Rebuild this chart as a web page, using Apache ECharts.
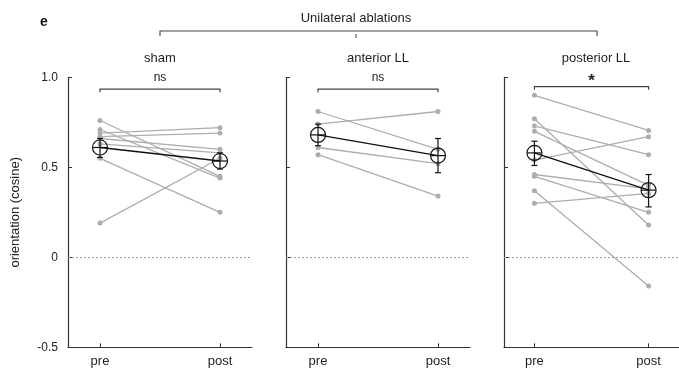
<!DOCTYPE html>
<html>
<head>
<meta charset="utf-8">
<script src="https://cdn.jsdelivr.net/npm/echarts@6/dist/echarts.min.js"></script>
<style>html,body{margin:0;padding:0;background:#fff;}#c{width:679px;height:370px;}</style>
</head>
<body>
<div id="c"></div>
<script>
// ---- data ----
const categories = ['pre', 'post'];
const panelTitles = ['sham', 'anterior LL', 'posterior LL'];
const yTicks = [-0.5, 0, 0.5, 1.0];

const shamPre  = [0.76, 0.71, 0.69, 0.67, 0.66, 0.63, 0.55, 0.19];
const shamPost = [0.45, 0.44, 0.72, 0.69, 0.60, 0.58, 0.25, 0.55];
const antPre   = [0.81, 0.74, 0.61, 0.57];
const antPost  = [0.60, 0.81, 0.52, 0.34];
const postPre  = [0.90, 0.77, 0.73, 0.70, 0.54, 0.46, 0.45, 0.37, 0.30];
const postPost = [0.705, 0.18, 0.57, 0.40, 0.67, 0.38, 0.25, -0.16, 0.355];

const shamMean = [0.61, 0.535];
const antMean  = [0.68, 0.565];
const postMean = [0.58, 0.373];
const shamErrLow = [0.555, 0.49], shamErrHigh = [0.66, 0.58];
const antErrLow  = [0.62, 0.47],  antErrHigh  = [0.74, 0.66];
const postErrLow = [0.51, 0.28],  postErrHigh = [0.645, 0.46];

const sigLabels = ['ns', 'ns', '*'];
const sigHeights = [0.934, 0.934, 0.948];

const groups = [
  {pre: shamPre, post: shamPost, mean: shamMean, lo: shamErrLow, hi: shamErrHigh},
  {pre: antPre, post: antPost, mean: antMean, lo: antErrLow, hi: antErrHigh},
  {pre: postPre, post: postPost, mean: postMean, lo: postErrLow, hi: postErrHigh}
];

// ---- layout ----
const FONT = 'Liberation Sans, Arial, sans-serif';
const gridLeft0 = 68, gridStep = 218, gridW = 184, gridTop = 77.3, gridH = 270;
const xPad = 32 / 120; // axis padding around pre/post in x units

const chart = echarts.init(document.getElementById('c'), null, {renderer: 'canvas'});

const grids = [], xAxes = [], yAxes = [], series = [];
groups.forEach((g, i) => {
  grids.push({left: gridLeft0 + gridStep * i, top: gridTop, width: gridW, height: gridH, containLabel: false});
  xAxes.push({
    type: 'value', gridIndex: i, min: 1 - xPad, max: 2 + xPad,
    axisLine: {show: true, onZero: false, lineStyle: {color: '#333', width: 1.2}},
    axisTick: {show: true, inside: true, length: 4, customValues: [1, 2], lineStyle: {color: '#333'}},
    axisLabel: {show: true, customValues: [1, 2], margin: 8, color: '#222', fontSize: 13, fontFamily: FONT,
      formatter: v => categories[Math.round(v) - 1]},
    splitLine: {show: false}
  });
  yAxes.push({
    type: 'value', gridIndex: i, min: -0.5, max: 1.0, interval: 0.5,
    name: i === 0 ? 'orientation (cosine)' : '', nameLocation: 'middle', nameGap: 46,
    nameTextStyle: {color: '#222', fontSize: 13, fontFamily: FONT},
    axisLine: {show: true, lineStyle: {color: '#333', width: 1.2}},
    axisTick: {show: true, inside: true, length: 4, lineStyle: {color: '#333'}},
    axisLabel: {show: i === 0, margin: 10, color: '#222', fontSize: 12, fontFamily: FONT,
      formatter: v => (v === 0 ? '0' : v.toFixed(1))},
    splitLine: {show: false}
  });

  // zero dotted line
  series.push({
    type: 'line', xAxisIndex: i, yAxisIndex: i, data: [], silent: true,
    markLine: {symbol: 'none', silent: true, label: {show: false},
      lineStyle: {color: '#999', type: [2, 2], width: 1},
      data: [{yAxis: 0}]}
  });

  // individual subjects
  g.pre.forEach((v, k) => {
    series.push({
      type: 'line', xAxisIndex: i, yAxisIndex: i,
      data: [[1, v], [2, g.post[k]]],
      symbol: 'circle', symbolSize: 5, showSymbol: true,
      lineStyle: {color: '#adadad', width: 1.3},
      itemStyle: {color: '#adadad'}, z: 2, animation: false
    });
  });

  // mean line
  series.push({
    type: 'line', xAxisIndex: i, yAxisIndex: i,
    data: [[1, g.mean[0]], [2, g.mean[1]]],
    symbol: 'circle', symbolSize: 15,
    lineStyle: {color: '#111', width: 1.3},
    itemStyle: {color: 'rgba(255,255,255,0)', borderColor: '#111', borderWidth: 1.2},
    z: 4, animation: false
  });

  // error bars + crosshair
  series.push({
    type: 'custom', xAxisIndex: i, yAxisIndex: i, z: 5, animation: false,
    data: [[1, g.lo[0], g.hi[0], g.mean[0]], [2, g.lo[1], g.hi[1], g.mean[1]]],
    renderItem: (params, api) => {
      const x = api.value(0);
      const lo = api.coord([x, api.value(1)]);
      const hi = api.coord([x, api.value(2)]);
      const m = api.coord([x, api.value(3)]);
      const st = {stroke: '#111', lineWidth: 1.2};
      return {type: 'group', children: [
        {type: 'line', shape: {x1: lo[0], y1: lo[1], x2: hi[0], y2: hi[1]}, style: st},
        {type: 'line', shape: {x1: lo[0] - 3, y1: lo[1], x2: lo[0] + 3, y2: lo[1]}, style: st},
        {type: 'line', shape: {x1: hi[0] - 3, y1: hi[1], x2: hi[0] + 3, y2: hi[1]}, style: st},
        {type: 'line', shape: {x1: m[0] - 7, y1: m[1], x2: m[0] + 7, y2: m[1]}, style: st}
      ]};
    }
  });

  // significance bracket
  series.push({
    type: 'custom', xAxisIndex: i, yAxisIndex: i, z: 5, animation: false,
    data: [[1, 2, sigHeights[i]]],
    renderItem: (params, api) => {
      const a = api.coord([api.value(0), api.value(2)]);
      const b = api.coord([api.value(1), api.value(2)]);
      const star = sigLabels[i] === '*';
      return {type: 'group', children: [
        {type: 'polyline', shape: {points: [[a[0], a[1] + 3], [a[0], a[1]], [b[0], b[1]], [b[0], b[1] + 3]]},
          style: {stroke: '#444', lineWidth: 1.2, fill: null}},
        {type: 'text', style: {text: sigLabels[i], x: (a[0] + b[0]) / 2, y: a[1] + (star ? 3 : -5),
          align: 'center', verticalAlign: 'bottom', fill: '#222',
          font: (star ? 'bold 17px ' : '12px ') + FONT}}
      ]};
    }
  });
});

const centers = groups.map((g, i) => gridLeft0 + gridStep * i + gridW / 2);
const graphics = [
  {type: 'text', left: 40, top: 15, style: {text: 'e', font: 'bold 14px ' + FONT, fill: '#111'}},
  {type: 'text', x: 356, y: 18, style: {text: 'Unilateral ablations', font: '13px ' + FONT, fill: '#222', align: 'center', verticalAlign: 'middle'}},
  {type: 'polyline', shape: {points: [[centers[0], 36], [centers[0], 31], [597, 31], [597, 36]]}, style: {stroke: '#444', lineWidth: 1.1, fill: null}},
  {type: 'line', shape: {x1: 356, y1: 34, x2: 356, y2: 38}, style: {stroke: '#444', lineWidth: 1}}
];
panelTitles.forEach((t, i) => {
  graphics.push({type: 'text', x: centers[i], y: 58, style: {text: t, font: '13px ' + FONT, fill: '#222', align: 'center', verticalAlign: 'middle'}});
});

chart.setOption({
  animation: false,
  grid: grids, xAxis: xAxes, yAxis: yAxes, series: series,
  graphic: graphics
});
</script>
</body>
</html>
